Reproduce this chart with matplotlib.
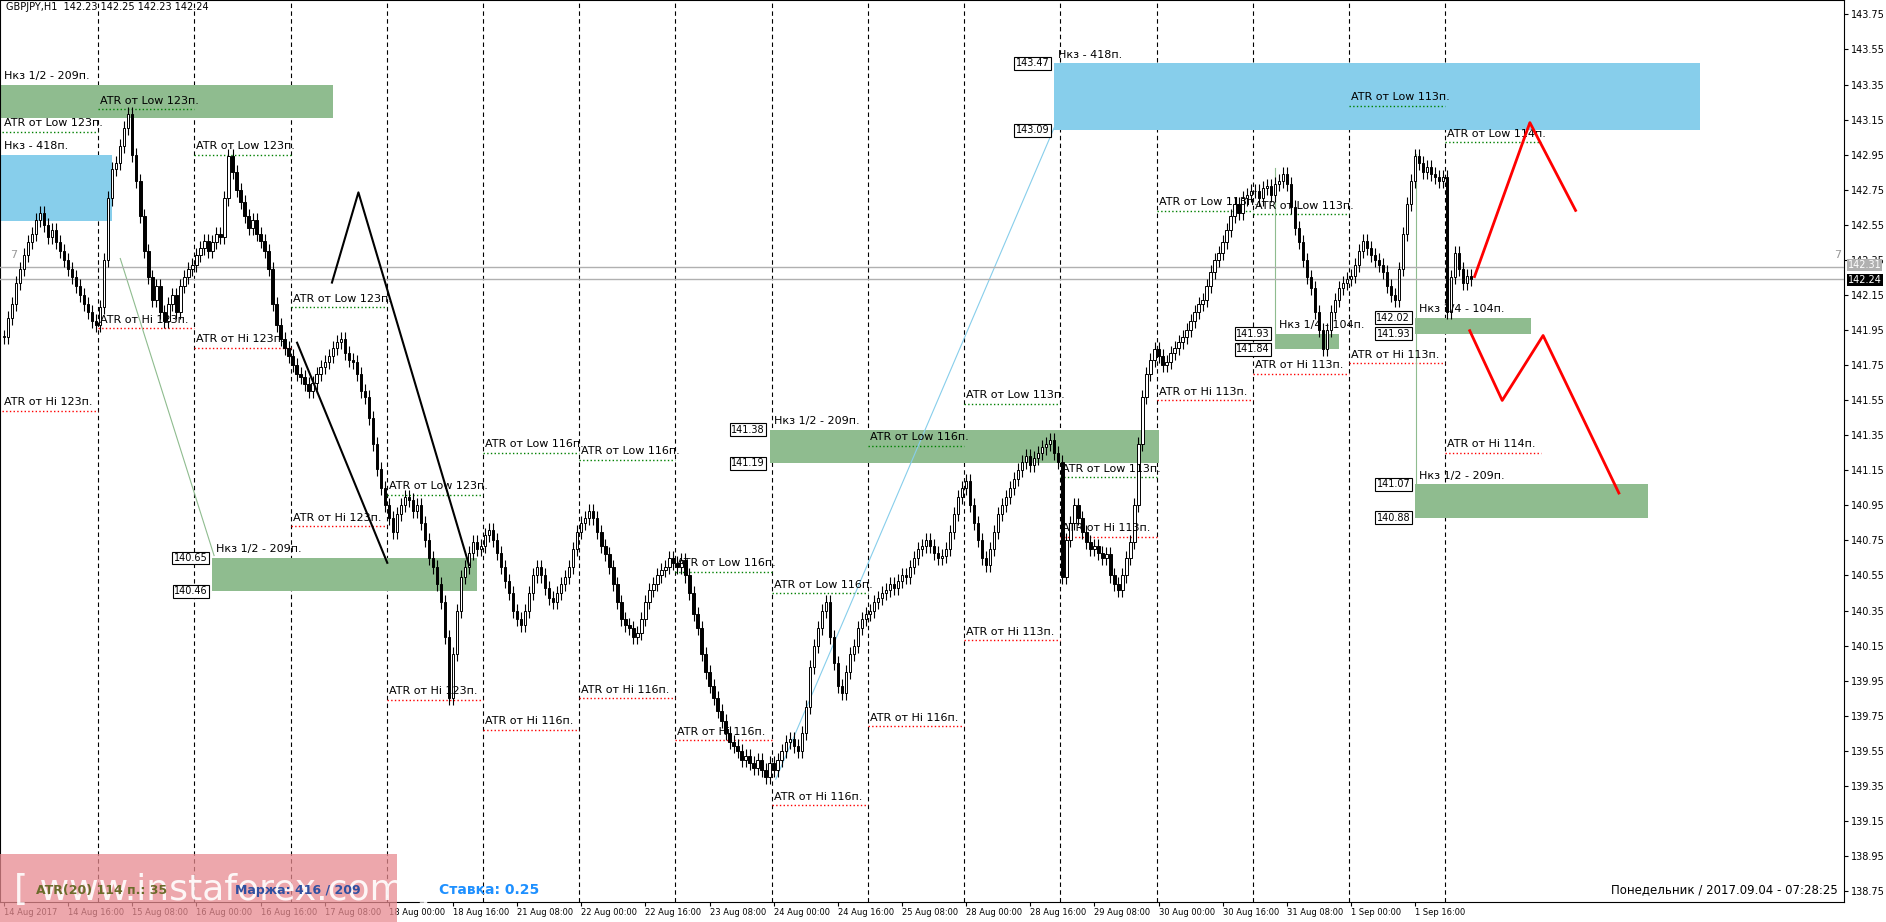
import numpy as np
import matplotlib.pyplot as plt
from matplotlib.patches import Rectangle

# hourly closes GBPJPY H1, one row per trading day
closes = [
    141.91, 142.02, 142.10, 142.22, 142.30, 142.38, 142.45, 142.50, 142.58, 142.62, 142.55, 142.48, 142.52, 142.45, 142.40, 142.35, 142.30, 142.25, 142.20, 142.15, 142.10, 142.05, 142.00, 141.98,
    142.08, 142.35, 142.70, 142.87, 142.90, 143.00, 143.10, 143.18, 142.95, 142.80, 142.60, 142.40, 142.25, 142.12, 142.20, 142.05, 142.00, 142.10, 142.15, 142.05, 142.20, 142.25, 142.30, 142.32,
    142.38, 142.42, 142.46, 142.40, 142.45, 142.50, 142.48, 142.70, 142.94, 142.85, 142.75, 142.68, 142.60, 142.53, 142.58, 142.50, 142.46, 142.40, 142.30, 142.10, 141.98, 141.90, 141.85, 141.80,
    141.75, 141.70, 141.68, 141.64, 141.60, 141.65, 141.70, 141.74, 141.77, 141.80, 141.85, 141.88, 141.90, 141.82, 141.78, 141.77, 141.70, 141.60, 141.57, 141.45, 141.30, 141.16, 141.05, 140.95,
    140.88, 140.80, 140.90, 140.95, 141.00, 140.98, 140.92, 140.95, 140.85, 140.75, 140.65, 140.60, 140.50, 140.40, 140.20, 139.85, 140.10, 140.35, 140.54, 140.60, 140.68, 140.74, 140.70, 140.72,
    140.78, 140.81, 140.75, 140.68, 140.60, 140.52, 140.45, 140.35, 140.30, 140.27, 140.35, 140.45, 140.55, 140.60, 140.55, 140.48, 140.42, 140.40, 140.45, 140.50, 140.54, 140.60, 140.70, 140.80,
    140.85, 140.88, 140.92, 140.88, 140.80, 140.72, 140.67, 140.60, 140.50, 140.40, 140.30, 140.27, 140.25, 140.20, 140.22, 140.30, 140.40, 140.47, 140.50, 140.55, 140.58, 140.60, 140.65, 140.62,
    140.60, 140.64, 140.55, 140.45, 140.33, 140.25, 140.10, 140.00, 139.92, 139.85, 139.78, 139.72, 139.65, 139.60, 139.58, 139.55, 139.50, 139.52, 139.48, 139.45, 139.50, 139.44, 139.40, 139.48,
    139.44, 139.50, 139.55, 139.60, 139.62, 139.58, 139.55, 139.65, 139.80, 140.03, 140.15, 140.25, 140.35, 140.40, 140.20, 140.05, 139.92, 139.88, 140.00, 140.10, 140.15, 140.25, 140.30, 140.33,
    140.35, 140.40, 140.42, 140.45, 140.47, 140.50, 140.48, 140.52, 140.55, 140.54, 140.60, 140.65, 140.70, 140.72, 140.75, 140.72, 140.68, 140.65, 140.66, 140.70, 140.80, 140.90, 141.00, 141.05,
    141.09, 140.95, 140.85, 140.75, 140.65, 140.61, 140.70, 140.80, 140.90, 140.95, 141.00, 141.05, 141.10, 141.15, 141.20, 141.23, 141.18, 141.22, 141.25, 141.28, 141.30, 141.32, 141.25, 141.20,
    140.54, 140.75, 140.85, 140.95, 140.88, 140.80, 140.74, 140.70, 140.72, 140.68, 140.65, 140.67, 140.55, 140.50, 140.47, 140.55, 140.65, 140.74, 140.95, 141.30, 141.57, 141.70, 141.78, 141.84,
    141.80, 141.75, 141.77, 141.82, 141.85, 141.88, 141.91, 141.95, 142.00, 142.05, 142.10, 142.12, 142.20, 142.28, 142.35, 142.39, 142.45, 142.52, 142.60, 142.67, 142.62, 142.70, 142.72, 142.74,
    142.74, 142.70, 142.76, 142.77, 142.72, 142.78, 142.80, 142.84, 142.78, 142.65, 142.53, 142.45, 142.35, 142.25, 142.19, 142.05, 141.95, 141.84, 141.95, 142.05, 142.12, 142.19, 142.22, 142.24,
    142.26, 142.32, 142.40, 142.46, 142.42, 142.38, 142.35, 142.32, 142.28, 142.20, 142.15, 142.12, 142.30, 142.50, 142.67, 142.80, 142.94, 142.90, 142.85, 142.88, 142.84, 142.82, 142.80, 142.82,
    142.05, 142.25, 142.39, 142.30, 142.22, 142.26, 142.24,
]
time_labels = ["14 Aug 2017", "14 Aug 16:00", "15 Aug 08:00", "16 Aug 00:00", "16 Aug 16:00", "17 Aug 08:00",
               "18 Aug 00:00", "18 Aug 16:00", "21 Aug 08:00", "22 Aug 00:00", "22 Aug 16:00", "23 Aug 08:00",
               "24 Aug 00:00", "24 Aug 16:00", "25 Aug 08:00", "28 Aug 00:00", "28 Aug 16:00", "29 Aug 08:00",
               "30 Aug 00:00", "30 Aug 16:00", "31 Aug 08:00", "1 Sep 00:00", "1 Sep 16:00"]
price_ticks = [138.75 + 0.2 * i for i in range(26)]

# zones: (bar from, bar to, top, bottom, kind, label)
zone_x0 = [-1, -1, 52, 191, 262, 317, 352, 352]
zone_x1 = [82, 27, 118, 288, 423, 333, 381, 410]
zone_top = [143.35, 142.95, 140.65, 141.38, 143.47, 141.93, 142.02, 141.07]
zone_bot = [143.16, 142.57, 140.46, 141.19, 143.09, 141.84, 141.93, 140.88]
zone_blue = [False, True, False, False, True, False, False, False]
zone_text = ["Нкз 1/2 - 209п.", "Нкз - 418п.", "Нкз 1/2 - 209п.", "Нкз 1/2 - 209п.", "Нкз - 418п.",
             "Нкз 1/4 - 104п.", "Нкз 1/4 - 104п.", "Нкз 1/2 - 209п."]
zone_tags = [False, False, True, True, True, True, True, True]

# ATR levels per day
atr_day = list(range(0, 384, 24))
atr_low = [143.08, 143.21, 142.95, 142.08, 141.01, 141.25, 141.21, 140.57, 140.45, 141.29, 141.53, 141.11, 142.63, 142.61, 143.23, 143.02]
atr_low_txt = ["123", "123", "123", "123", "123", "116", "116", "116", "116", "116", "113", "113", "113", "113", "113", "114"]
atr_hi = [141.49, 141.96, 141.85, 140.83, 139.84, 139.67, 139.85, 139.61, 139.24, 139.69, 140.18, 140.77, 141.55, 141.70, 141.76, 141.25]

W, H = 1886, 922
fig = plt.figure(figsize=(W / 100, H / 100), dpi=100)
ax = fig.add_axes([0, 20 / H, 1844 / W, 1 - 20 / H])
ax.set_xlim(-1, 459)
ax.set_ylim(138.688, 143.832)

def P(x, y):
    # reference screen position -> (bar, price)
    return x / 3.333 - 1, 143.75 - (y - 12) / 145.8

# day separators
for b in range(24, 384, 24):
    ax.axvline(b - 0.5, color='black', ls=(0, (4, 3)), lw=0.8, zorder=1)

# zones
for x0, x1, t, b, blue, txt, tag in zip(zone_x0, zone_x1, zone_top, zone_bot, zone_blue, zone_text, zone_tags):
    ax.add_patch(Rectangle((x0, b), x1 - x0, t - b, color='#87ceeb' if blue else '#8fbc8f', zorder=2, lw=0))
    ax.text(x0 + 1, t + 0.02, txt, fontsize=8, va='bottom', zorder=6)
    if tag:
        for lv in (t, b):
            ax.text(x0 - 1.2, lv, f"{lv:.2f}", fontsize=7, ha='right', va='center', zorder=6,
                    bbox=dict(boxstyle='square,pad=0.15', fc='white', ec='black', lw=0.8))

# ATR levels
for d, lo, lt, hi in zip(atr_day, atr_low, atr_low_txt, atr_hi):
    x0, x1 = d - 0.5, d + 23.5
    ax.plot([x0, x1], [lo, lo], color='green', ls=':', lw=1, zorder=3)
    ax.text(x0 + 0.5, lo + 0.02, f"ATR от Low {lt}п.", fontsize=8, va='bottom', zorder=6)
    ax.plot([x0, x1], [hi, hi], color='red', ls=':', lw=1, zorder=3)
    ax.text(x0 + 0.5, hi + 0.02, f"ATR от Hi {lt}п.", fontsize=8, va='bottom', zorder=6)

# thin helper lines
for pts, c in [([(645, 648), (877, 105)], '#87ceeb'), ([(100, 215), (178, 462)], '#8fbc8f'),
               ([(1060, 140), (1060, 288)], '#8fbc8f'), ([(1177, 128), (1177, 428)], '#8fbc8f')]:
    xs, ys = zip(*[P(*p) for p in pts])
    ax.plot(xs, ys, color=c, lw=0.8, zorder=3)

# candles
c = np.array(closes)
o = np.r_[c[0], c[:-1]]
n = np.arange(len(c))
top = np.maximum(o, c)
bot = np.minimum(o, c)
ax.vlines(n, bot - 0.04, top + 0.04, color='black', lw=0.8, zorder=4)
for i in n:
    ax.add_patch(Rectangle((i - 0.3, bot[i]), 0.6, max(top[i] - bot[i], 0.004),
                           fc='white' if c[i] >= o[i] else 'black', ec='black', lw=0.7, zorder=5))

# drawn scenarios
for pts, col in [([(247, 285), (322, 468)], 'black'), ([(276, 235), (298, 160), (390, 470)], 'black'),
                 ([(1226, 230), (1272, 102), (1310, 175)], 'red'),
                 ([(1222, 275), (1249, 333), (1283, 279), (1346, 410)], 'red')]:
    xs, ys = zip(*[P(*p) for p in pts])
    ax.plot(xs, ys, color=col, lw=2 if col == 'red' else 1.5, zorder=7)

ax.axhline(142.31, color='#b0b0b0', lw=1, zorder=3)
ax.axhline(142.24, color='#b0b0b0', lw=1, zorder=3)
ax.text(*P(8, 212), "7", color='#999999', fontsize=8, va='center')
ax.text(*P(1525, 212), "7", color='#999999', fontsize=8, va='center')

ax.text(0.003, 0.998, "GBPJPY,H1  142.23 142.25 142.23 142.24", transform=ax.transAxes, fontsize=7, va='top')
ax.text(*P(365, 740), "Ставка: 0.25", color='#1e90ff', fontsize=10, fontweight='bold', va='center')
ax.text(*P(1528, 740), "Понедельник / 2017.09.04 - 07:28:25", fontsize=8.5, ha='right', va='center')

# price axis on right
ax.yaxis.tick_right()
ax.set_yticks(price_ticks)
ax.set_yticklabels([f"{p:.2f}" for p in price_ticks], fontsize=7)
ax.tick_params(axis='y', length=3, pad=2)
ax.set_xticks(range(0, 368, 16))
ax.set_xticklabels(time_labels, fontsize=6, ha='left')
ax.tick_params(axis='x', length=3, pad=1)
for lv, fc, tc, dy in [(142.31, '#b0b0b0', 'white', 0.012), (142.24, 'black', 'white', -0.005)]:
    ax.text(1.002, lv + dy, f"{lv:.2f}", transform=ax.get_yaxis_transform(), fontsize=7, color=tc, va='center',
            bbox=dict(boxstyle='square,pad=0.1', fc=fc, ec='none'), zorder=8)

# watermark box
s = W / 1568
fig.patches.append(Rectangle((0, 1 - 768 * s / H), 330 * s / W, 58 * s / H, transform=fig.transFigure,
                             fc='#e88a90', alpha=0.75, ec='none', zorder=10))
fig.text(12 * s / W, 1 - 740 * s / H, "[ www.instaforex.com ]", fontsize=26, color='white', va='center', zorder=11, alpha=0.9)
fig.text(30 * s / W, 1 - 740 * s / H, "ATR(20) 114 п.: 35", fontsize=9, color='#6b6b2a', fontweight='bold', va='center', zorder=12)
fig.text(195 * s / W, 1 - 740 * s / H, "Маржа: 416 / 209", fontsize=9, color='#3050a0', fontweight='bold', va='center', zorder=12)

fig.savefig("out.png", dpi=100, facecolor='white')
